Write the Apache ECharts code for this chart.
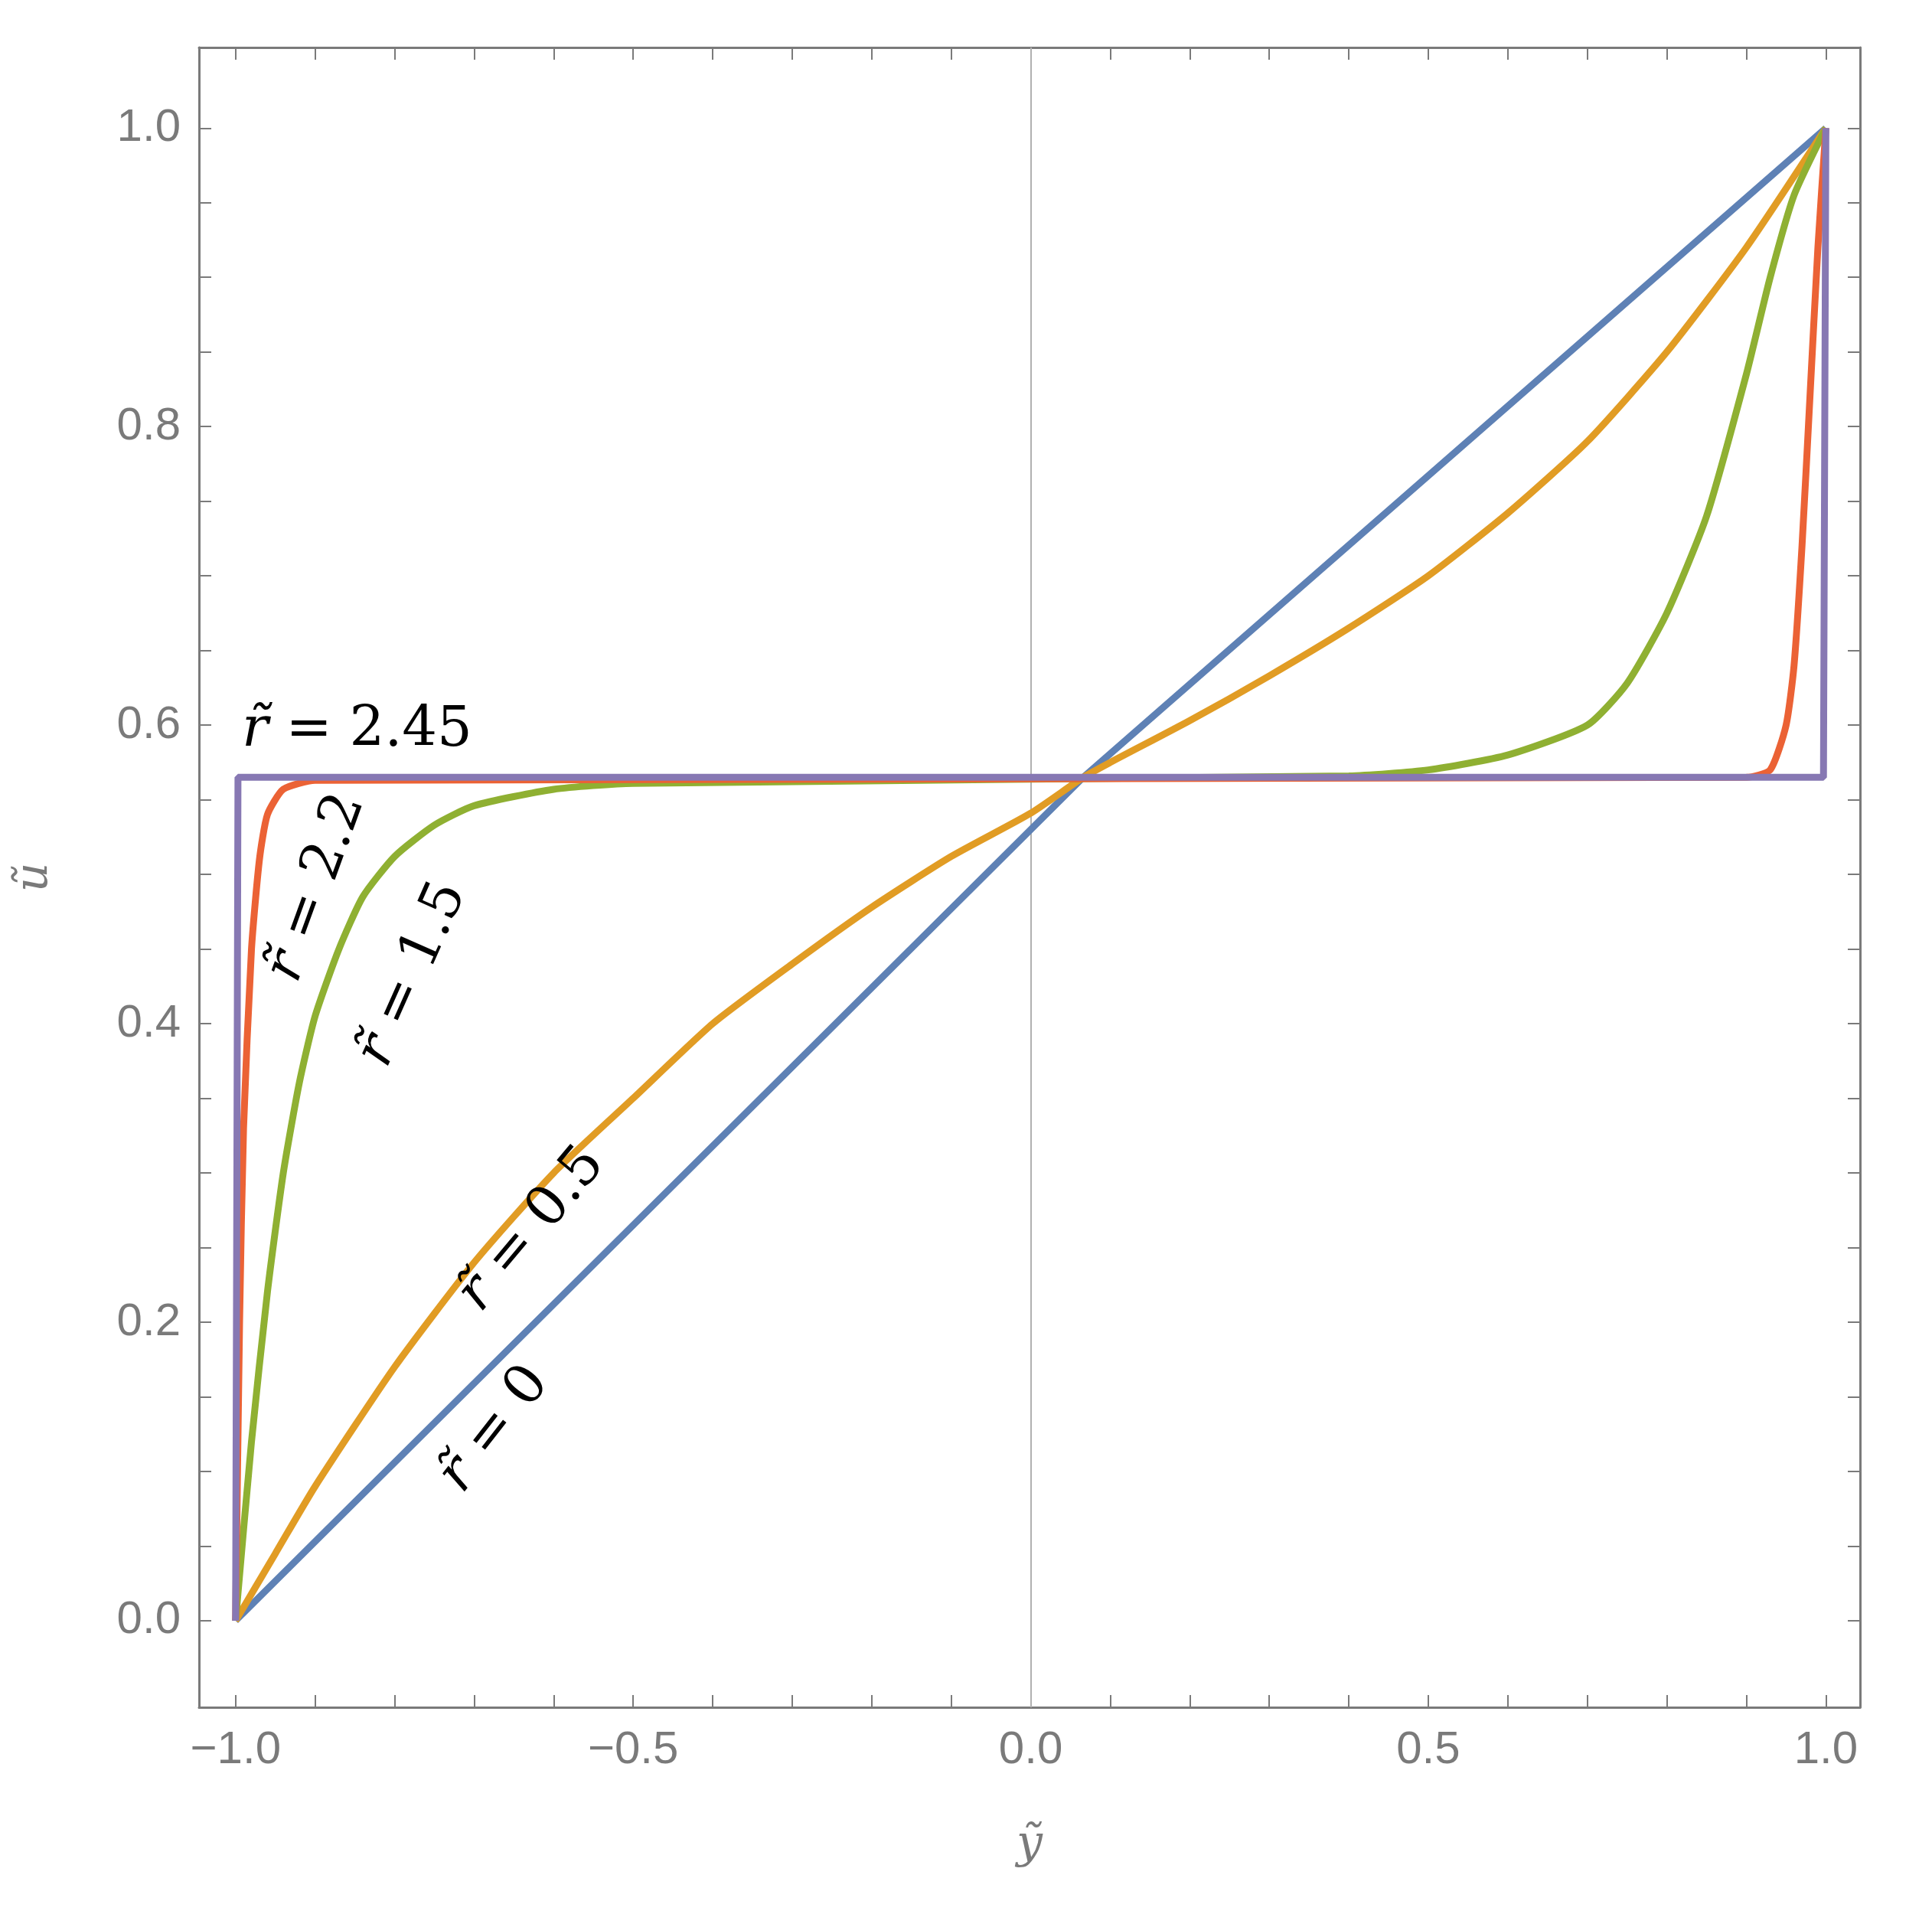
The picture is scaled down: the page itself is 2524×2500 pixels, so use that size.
<!DOCTYPE html>
<html lang="en">
<head>
  <meta charset="UTF-8">
  <title>u profiles</title>
  <script src="https://cdn.jsdelivr.net/npm/echarts@6/dist/echarts.min.js"></script>
</head>
<body style="margin:0">
  <div id="chart" style="width:2524px;height:2500px;"></div>
  <script>
    // curves: [y, u]
    var r0 = [[-1, 0], [0.066, 0.565], [1, 1]];
    var r05 = [[-1, 0], [-0.95, 0.045], [-0.9, 0.09], [-0.8, 0.17], [-0.7, 0.24], [-0.6, 0.3], [-0.5, 0.35],
      [-0.4, 0.4], [-0.3, 0.44], [-0.2, 0.478], [-0.1, 0.512], [0, 0.541], [0.066, 0.565], [0.1, 0.575],
      [0.2, 0.603], [0.3, 0.633], [0.4, 0.665], [0.5, 0.7], [0.6, 0.742], [0.7, 0.79], [0.8, 0.85],
      [0.9, 0.92], [1, 1]];
    var r15 = [[-1, 0], [-0.98, 0.12], [-0.96, 0.22], [-0.94, 0.3], [-0.92, 0.36], [-0.9, 0.405],
      [-0.87, 0.45], [-0.84, 0.485], [-0.8, 0.512], [-0.75, 0.533], [-0.7, 0.546], [-0.6, 0.557],
      [-0.5, 0.561], [0.4, 0.566], [0.5, 0.57], [0.6, 0.58], [0.7, 0.6], [0.75, 0.628], [0.8, 0.675],
      [0.85, 0.74], [0.9, 0.835], [0.93, 0.9], [0.96, 0.955], [1, 1]];
    var r22 = [[-1, 0], [-0.995, 0.2], [-0.99, 0.33], [-0.98, 0.45], [-0.97, 0.51], [-0.96, 0.54],
      [-0.94, 0.557], [-0.9, 0.563], [0.9, 0.565], [0.93, 0.57], [0.95, 0.6], [0.96, 0.64],
      [0.97, 0.72], [0.98, 0.82], [0.99, 0.92], [1, 1]];
    var r245 = [[-1, 0], [-0.997, 0.565], [0.997, 0.565], [1, 1]];

    var xMajor = [-1, -0.5, 0, 0.5, 1];
    var xMinor = [-1, -0.9, -0.8, -0.7, -0.6, -0.5, -0.4, -0.3, -0.2, -0.1, 0, 0.1, 0.2, 0.3, 0.4, 0.5, 0.6, 0.7, 0.8, 0.9, 1];
    var yMajor = [0, 0.2, 0.4, 0.6, 0.8, 1];
    var yMinor = [0, 0.05, 0.1, 0.15, 0.2, 0.25, 0.3, 0.35, 0.4, 0.45, 0.5, 0.55, 0.6, 0.65, 0.7, 0.75, 0.8, 0.85, 0.9, 0.95, 1];

    var labels = [
      { text: '2.45', at: [-0.992, 0.596], rot: 0, align: 'left' },
      { text: '2.2', at: [-0.898, 0.491], rot: 70, align: 'center' },
      { text: '1.5', at: [-0.777, 0.433], rot: 66, align: 'center' },
      { text: '0.5', at: [-0.627, 0.262], rot: 50, align: 'center' },
      { text: '0', at: [-0.674, 0.128], rot: 52, align: 'center' }
    ];

    var gray = '#7a7a7a';
    var chart = echarts.init(document.getElementById('chart'));

    function axisX(pos, show) {
      return {
        type: 'value', position: pos, min: -1.046, max: 1.043,
        axisLine: { onZero: false, lineStyle: { color: gray, width: 3 } },
        axisTick: { inside: true, length: 16, customValues: xMinor, lineStyle: { color: gray, width: 2 } },
        axisLabel: { show: show, customValues: xMajor, color: gray, fontSize: 60, margin: 26,
          fontFamily: 'Liberation Sans', formatter: function (v) { return v.toFixed(1).replace('-', '\u2212'); } },
        splitLine: { show: false },
        name: show ? 'y\u0303' : '', nameLocation: 'middle', nameGap: 150,
        nameTextStyle: { color: gray, fontSize: 60, fontStyle: 'italic', fontFamily: 'DejaVu Serif' }
      };
    }
    function axisY(pos, show) {
      return {
        type: 'value', position: pos, min: -0.058, max: 1.054,
        axisLine: { onZero: false, lineStyle: { color: gray, width: 3 } },
        axisTick: { inside: true, length: 16, customValues: yMinor, lineStyle: { color: gray, width: 2 } },
        axisLabel: { show: show, customValues: yMajor, color: gray, fontSize: 60, margin: 24,
          fontFamily: 'Liberation Sans', formatter: function (v) { return v.toFixed(1); } },
        splitLine: { show: false },
        name: show ? 'u\u0303' : '', nameLocation: 'middle', nameGap: 185, nameRotate: 90,
        nameTextStyle: { color: gray, fontSize: 60, fontStyle: 'italic', fontFamily: 'DejaVu Serif' }
      };
    }

    function line(data, color) {
      return {
        type: 'line', data: data, showSymbol: false, smooth: 0.2,
        lineStyle: { color: color, width: 9 }, z: 3
      };
    }

    var series = [
      Object.assign(line(r0, '#5E81B5'), { smooth: false }),
      line(r05, '#E19C24'),
      line(r15, '#8FB032'),
      line(r22, '#EB6235'),
      Object.assign(line(r245, '#8778B3'), { smooth: false })
    ];
    series[0].markLine = {
      silent: true, symbol: 'none', label: { show: false },
      lineStyle: { color: '#b0b0b0', width: 2, type: 'solid' },
      data: [{ xAxis: 0 }], z: 1
    };

    chart.setOption({
      animation: false,
      backgroundColor: '#fff',
      grid: { left: 260, right: 94, top: 62, bottom: 270 },
      xAxis: [axisX('bottom', true), axisX('top', false)],
      yAxis: [axisY('left', true), axisY('right', false)],
      series: series
    });

    chart.setOption({
      graphic: labels.map(function (l) {
        var p = chart.convertToPixel({ xAxisIndex: 0, yAxisIndex: 0 }, l.at);
        return {
          type: 'text', x: p[0], y: p[1], rotation: l.rot * Math.PI / 180, z: 10,
          style: {
            text: '{i|r\u0303} = ' + l.text, align: l.align, verticalAlign: 'middle',
            fill: '#000', font: '72px "DejaVu Serif"',
            rich: { i: { fontStyle: 'italic', fontSize: 72, fontFamily: 'DejaVu Serif' } }
          }
        };
      })
    });
  </script>
</body>
</html>
